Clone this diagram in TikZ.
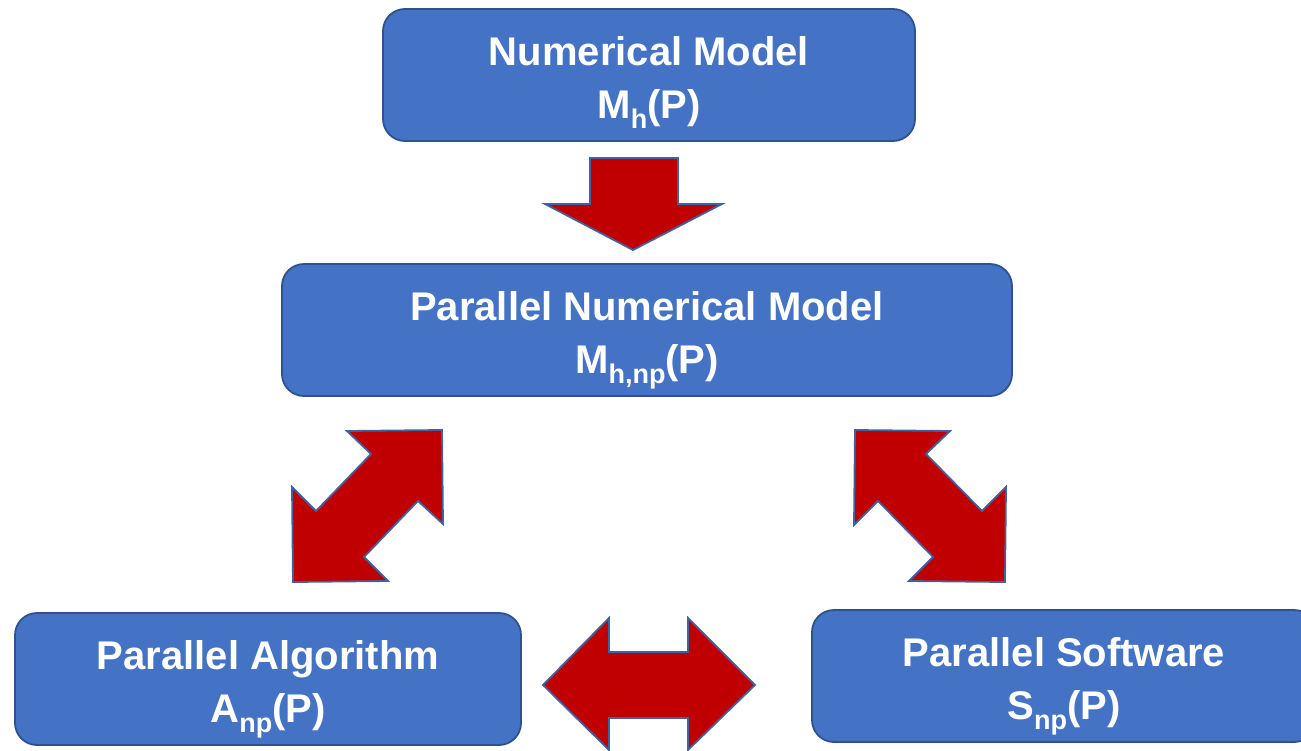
\documentclass[tikz,border=0pt]{standalone}
\usepackage{fontspec}
\setmainfont{Liberation Sans}
\definecolor{boxblue}{HTML}{4472C4}
\definecolor{boxedge}{HTML}{2F528F}
\definecolor{arrowred}{HTML}{C00000}
\definecolor{arrowedge}{HTML}{3F63A0}
% lowered, smaller index in the same bold sans face
\newcommand{\idx}[1]{\smash{\raisebox{-10pt}{\fontsize{27}{27}\selectfont #1}}}
% extra head room above the first line, lowers the text block
\newcommand{\headroom}{\rule{0pt}{43pt}}
\begin{document}
\begin{tikzpicture}[x=1pt,y=-1pt,
  stage/.style={draw=boxedge, line width=1.8pt, fill=boxblue,
    rounded corners=22pt, text=white,
    font=\fontsize{40}{53}\selectfont\bfseries, align=center,
    minimum height=132pt, inner sep=0pt},
  blockarrow/.style={fill=arrowred, draw=arrowedge, line width=1.8pt,
    line join=miter}]
\useasboundingbox (0,0) rectangle (1301,750);

% model stages
\node[stage, minimum width=532pt] (num) at (649,75)
  {\headroom Numerical Model\\M\idx{h}(P)};
\node[stage, minimum width=730pt] (par) at (647,330)
  {\headroom Parallel Numerical Model\\M\idx{h,np}(P)};
\node[stage, minimum width=506pt] (alg) at (268,679)
  {\headroom Parallel Algorithm\\A\idx{np}(P)};
\node[stage, minimum width=504pt] (sw) at (1064,676)
  {\headroom Parallel Software\\S\idx{np}(P)};

% block arrow: numerical model -> parallel model
\draw[blockarrow] (590,158) -- (678,158) -- (678,204) -- (722,204)
  -- (633,250) -- (545,204) -- (590,204) -- cycle;

% double block arrow: parallel model <-> algorithm
\draw[blockarrow] (442,430) -- (443,524) -- (418,501) -- (364,557)
  -- (388,581) -- (293,582) -- (292,487) -- (316,511) -- (371,454)
  -- (347,431) -- cycle;

% double block arrow: parallel model <-> software
\draw[blockarrow] (855,430) -- (950,431) -- (926,454) -- (982,511)
  -- (1006,487) -- (1005,582) -- (909,581) -- (933,557) -- (878,501)
  -- (854,525) -- cycle;

% double block arrow: algorithm <-> software
\draw[blockarrow] (543,685) -- (609,618) -- (609,652) -- (688,652)
  -- (688,618) -- (755,685) -- (688,750) -- (688,718) -- (609,718)
  -- (609,750) -- cycle;
\end{tikzpicture}
\end{document}
